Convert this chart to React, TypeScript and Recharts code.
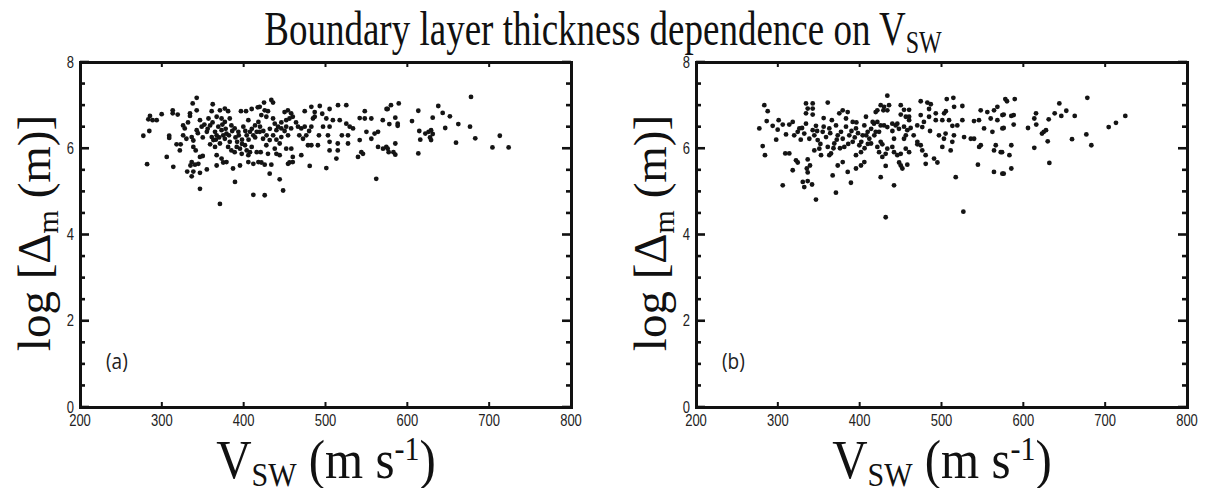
import React from 'react';
import { ScatterChart, Scatter, XAxis, YAxis } from 'recharts';

// V_sw vs log boundary layer thickness
const panelA: [number, number][] = [
  [342.6, 7.17], [337.7, 7.04], [362.2, 7.02], [285.5, 6.75], [283.5, 6.67], [288.7, 6.65], [293.7, 6.65],
  [299.8, 6.79], [313.3, 6.88], [313.3, 6.81], [319.4, 6.78], [334.4, 6.81], [334.4, 6.75], [342.6, 6.88],
  [360.9, 6.86], [371, 6.88], [377, 6.92], [381, 6.86], [396.7, 6.86], [402.9, 6.86], [409.8, 6.91], [417.2, 6.95],
  [277.4, 6.29], [284.7, 6.4], [309, 6.29], [309, 6.24], [318, 6.09], [323, 6.09], [322, 5.95], [306, 5.8],
  [282, 5.63], [314, 5.57], [326, 6.53], [328, 6.46], [330, 6.22], [336.5, 6.26], [338.5, 6.18], [342.6, 6.42],
  [346.6, 6.65], [348.7, 6.5], [338.5, 6.03], [341.4, 5.95], [346.6, 5.8], [350, 5.82], [336.5, 5.68], [340.5, 5.62],
  [344.6, 5.64], [335, 5.6], [331, 5.46], [338.5, 5.46], [346.6, 5.43], [336.5, 5.35], [355, 5.51], [346.6, 5.06],
  [371, 4.71], [389.4, 5.22], [411.8, 4.92],
  [355, 6.38], [359, 6.53], [361, 6.26], [365, 6.38], [367, 6.3], [363, 6.19], [369, 6.5], [373, 6.42], [375, 6.3], [379, 6.34],
  [359, 6.09], [365, 6.03], [371, 6.11], [377, 6.22], [381, 6.03], [383, 6.15], [385, 5.95], [391.5, 6.03], [395.5, 5.99],
  [401.6, 6.07], [403.7, 5.95], [407.7, 5.91], [409.8, 6.03],
  [367, 5.84], [373, 5.76], [379, 5.68], [389, 5.91], [397.6, 5.87], [405.7, 5.84], [416, 5.91], [367, 5.6], [375, 5.67],
  [387, 5.53], [395.5, 5.6], [405.7, 5.68], [411.8, 5.64], [418, 5.68],
  [357, 6.69], [367, 6.73], [373, 6.69], [383, 6.69], [377, 6.61], [385, 6.53], [389, 6.46], [393.5, 6.38], [399.6, 6.5],
  [405.7, 6.65], [407.7, 6.38], [411.8, 6.3], [413.9, 6.53], [418, 6.61], [416, 6.38], [403.7, 6.3],
  [433.8, 7.12], [435.9, 7.06], [424.9, 7.06], [419.6, 6.96], [425.7, 6.88], [429.7, 6.86], [421.6, 6.77], [427.7, 6.73],
  [435.9, 6.69], [450, 6.84], [454, 6.88], [458, 6.81], [460, 6.73], [456, 6.69], [452, 6.65],
  [482.7, 6.96], [493, 6.98], [486.8, 6.84], [474.6, 6.86], [505, 6.91], [515.3, 7.0], [525.4, 7.0],
  [548, 6.86], [541.8, 6.7], [548, 6.69], [556, 6.69], [570, 6.65], [574.6, 6.91],
  [438, 6.57], [442, 6.5], [440, 6.42], [446, 6.46], [452, 6.5], [458, 6.46], [466.4, 6.5],
  [470.4, 6.46], [474.6, 6.5], [484.7, 6.69], [486.8, 6.73], [482.7, 6.5], [497, 6.5], [501, 6.69], [505, 6.5],
  [509, 6.65], [517.4, 6.65], [525.4, 6.57], [533.6, 6.46], [529.6, 6.5],
  [419.6, 6.38], [423.7, 6.22], [431.8, 6.19], [427.7, 6.07], [420.8, 5.91], [429.7, 5.87], [438, 5.99], [444, 6.11],
  [446, 6.26], [454.2, 6.3], [458.2, 5.99],
  [440, 5.87], [444, 5.84], [452, 5.99], [460, 5.8], [454.2, 5.64], [470.4, 5.84], [472.5, 6.22], [476.5, 6.3],
  [478.6, 6.07], [482.7, 6.07], [490.7, 6.07], [503, 6.3], [505, 6.15], [515, 6.11], [505, 5.95], [515, 5.95],
  [527.5, 6.3], [527.5, 6.11], [513.3, 5.76],
  [541.8, 6.19], [550, 6.38], [556, 6.22], [560, 6.34], [564.2, 6.38], [564.2, 6.03], [570.3, 5.99], [574.3, 6.03],
  [543.8, 5.91], [539.7, 5.8], [545.8, 5.87],
  [421.6, 5.67], [425.7, 5.62], [433.8, 5.62], [431.8, 5.41], [444, 5.28], [425.7, 4.91], [448.2, 5.02], [480.7, 5.59],
  [501, 5.54], [562, 5.29], [456, 5.67], [460, 5.68],
  [580, 7.0], [576, 6.91], [589.5, 7.04], [585.3, 6.71], [578, 6.56], [588.2, 6.57], [588.2, 6.52],
  [613.4, 6.87], [605.7, 6.63], [631, 6.71], [637.8, 6.98], [643.2, 6.82], [652, 6.74], [662.3, 6.56], [677.8, 7.19],
  [676.6, 6.5], [646.3, 6.47],
  [614.6, 6.4], [615.8, 6.2], [622, 6.34], [626, 6.38], [629, 6.42], [631, 6.33], [627.7, 6.25], [629, 6.19], [613.4, 5.88],
  [659.5, 6.13], [683, 6.23], [704, 6.02], [713, 6.29], [723.8, 6.02],
  [585.3, 6.11], [576, 5.99], [577.2, 5.91], [583, 5.91], [585.3, 5.85],
  // denser core of the cloud
  [352, 6.55], [356, 6.45], [362, 6.6], [366, 6.2], [370, 6.25], [374, 6.55], [378, 6.45], [382, 6.3], [386, 6.4],
  [390, 6.25], [394, 6.3], [398, 6.2], [402, 6.4], [406, 6.2], [410, 6.45], [414, 6.25], [398, 6.1], [392, 6.15],
  [344, 6.35], [350, 6.25], [332, 6.6], [326, 6.3], [420, 6.5], [424, 6.4], [428, 6.3], [432, 6.45], [436, 6.3],
  [440, 6.2], [446, 6.6], [450, 6.4], [464, 6.6], [468, 6.3], [480, 6.4], [492, 6.3], [496, 6.8], [520, 6.3],
];

const panelB: [number, number][] = [
  [283.5, 7.0], [287.6, 6.86], [334.4, 7.04], [342.6, 7.04], [336.5, 6.92], [342.6, 6.92], [334.4, 6.81], [342.6, 6.78],
  [361, 7.06],
  [277.4, 6.46], [286.4, 6.63], [293.7, 6.52], [301, 6.65], [299.8, 6.43], [310, 6.32], [314, 6.55], [318.2, 6.61],
  [326.3, 6.46], [329.6, 6.47], [334.4, 6.57], [342.6, 6.42], [346.6, 6.52],
  [281.5, 6.05], [284.3, 5.84], [309.1, 5.88], [314, 5.88], [322.2, 5.72], [324.3, 5.67], [336.5, 5.74], [339.3, 5.6],
  [318.2, 5.49], [335.4, 5.53], [336.5, 5.44], [306, 5.14], [330.5, 5.22], [336.5, 5.24], [332.3, 5.1], [341.8, 5.16],
  [346.6, 4.81], [371, 4.97], [389.3, 5.2],
  [338.5, 6.22], [344.6, 6.3], [348.7, 6.19], [354.8, 6.38], [358.9, 6.26], [362.9, 6.46], [361, 6.03], [365, 5.88],
  [369, 6.11], [373.2, 6.3], [371.1, 6.53], [377.2, 6.38], [379.3, 6.22], [381.2, 6.03], [383.3, 6.5], [383.3, 6.69],
  [375.1, 6.81], [379.3, 6.88], [385.4, 6.84], [391.5, 6.61], [387.3, 6.3], [391.5, 6.15], [395.5, 6.46], [399.6, 6.07],
  [401.6, 5.91], [395.5, 5.84], [403.7, 6.3], [405.7, 6.53], [407.7, 6.73], [409.8, 6.38], [411.8, 6.22], [413.9, 6.11],
  [417.9, 6.3], [415.9, 6.61], [401.6, 5.6], [405.7, 5.68], [373.2, 5.6], [379.3, 5.68], [385.4, 5.45], [395.5, 5.53],
  [367, 5.37], [352.8, 5.84], [362.9, 5.84], [350.7, 5.99], [344.6, 5.95], [324.3, 6.38], [332.3, 6.34],
  [433.8, 7.22], [425.7, 7.0], [429.8, 6.96], [435.9, 7.0], [419.6, 6.84], [421.6, 6.88], [429, 6.88], [433.8, 6.88],
  [450.2, 7.0], [454.2, 6.89], [460.4, 6.89], [450.2, 6.78], [456.4, 6.73], [460.4, 6.73], [474.6, 7.09], [482.7, 7.06],
  [486.9, 7.02], [484.8, 6.91], [484.8, 6.73], [493, 6.81], [474.6, 6.77], [506.4, 7.14], [514.5, 7.17], [515.4, 6.96],
  [525.5, 6.98], [505.3, 6.86], [503.2, 6.81],
  [417.5, 6.57], [421.6, 6.61], [425.7, 6.53], [429.8, 6.53], [433.8, 6.49], [439.9, 6.57], [444, 6.53], [446, 6.57],
  [419.6, 6.38], [423.7, 6.38], [454.2, 6.5], [458.2, 6.42], [462.3, 6.47], [456.4, 6.3], [454.2, 6.22], [460.4, 6.65],
  [470.4, 6.53], [476.5, 6.49], [478.5, 6.61], [493, 6.65], [501, 6.65], [509.2, 6.65], [519.3, 6.53], [525.5, 6.65],
  [513.3, 6.52], [539.7, 6.63], [545.8, 6.65], [547.9, 6.88], [556, 6.84], [564.2, 6.88], [568.3, 6.96], [560.1, 6.69],
  [568.3, 6.65], [574.4, 6.77], [552, 6.46], [562.2, 6.38], [574.4, 6.46],
  [425.7, 6.15], [427.7, 6.09], [421.6, 6.03], [423.7, 5.91], [431.8, 5.87], [433.8, 5.99], [439.9, 6.03], [442, 6.22],
  [442, 5.91], [446, 5.84], [450.2, 5.87], [456.3, 5.99], [460.4, 5.91], [470.5, 6.15], [470.5, 6.09], [474.6, 6.07],
  [476.5, 5.95], [480.6, 5.84], [496.9, 6.3], [503, 6.22], [505, 6.34], [515.2, 6.3], [513.2, 6.15], [501, 6.03],
  [527.6, 6.26], [535.8, 6.22], [539.8, 6.22], [548, 6.07], [546, 6.03], [566.3, 6.07], [564.2, 5.95], [572.4, 5.91],
  [427.7, 5.8], [431.8, 5.59], [425.7, 5.33], [442, 5.14], [448.2, 5.67], [452.2, 5.53], [450.2, 5.6], [458.2, 5.62],
  [480.7, 5.64], [490.9, 5.76], [495, 5.67], [511.2, 5.95], [544.5, 5.62], [564.1, 5.45], [574.4, 5.41], [517.4, 5.33],
  [431.8, 4.4], [526.7, 4.53],
  [578, 7.14], [580, 7.09], [589.5, 7.14], [576, 6.78], [585.3, 6.75], [588.2, 6.77], [588.2, 6.55], [576, 6.47],
  [605.7, 6.47], [615.5, 6.81], [613.4, 6.69], [615.8, 6.55], [631, 6.67], [638.3, 6.81], [644, 7.04], [646.4, 6.75],
  [652.5, 6.87], [662.8, 6.75], [678.2, 7.17],
  [622.8, 6.34], [625, 6.38], [627.7, 6.42], [629.8, 6.16], [659.5, 6.21], [677, 6.32], [683.1, 6.07], [704.3, 6.49],
  [713.2, 6.59], [724.6, 6.75],
  [585.3, 6.07], [574, 5.91], [583, 5.84], [613.4, 6.01], [585.3, 5.53], [576, 5.41], [631.8, 5.66],
  // denser core of the cloud
  [352, 6.1], [356, 6.5], [364, 6.35], [368, 6.0], [372, 6.2], [376, 6.0], [386, 6.1], [390, 6.4], [394, 6.25],
  [398, 6.35], [402, 6.15], [406, 6.0], [410, 6.1], [414, 6.45], [408, 6.3], [396, 6.6], [366, 6.65], [356, 6.7],
  [348, 6.4], [328, 6.2], [320, 6.3], [306, 6.55], [298, 6.2], [440, 6.4], [448, 6.45], [466, 6.3], [486, 6.4],
];

const xTicks = [200, 300, 400, 500, 600, 700, 800];
const yTicks = [0, 0.5, 1, 1.5, 2, 2.5, 3, 3.5, 4, 4.5, 5, 5.5, 6, 6.5, 7, 7.5, 8];
const yLabelled = [0, 2, 4, 6, 8];

const INK = '#111111';
const sans = '"Liberation Sans", Arial, sans-serif';
const serif = '"Liberation Serif", "Times New Roman", serif';

// plot box inside each 600x488 panel: left 80, top 62, right 571, bottom 407
const BOX = { left: 80, top: 62, width: 491, height: 345 };
const AX = 12; // room given to the top / right axes

// the figure is a bit stretched vertically, so text gets a scaleY
const TickText = ({ x, y, anchor, children }: any) => (
  <text transform={`translate(${x},${y}) scale(1,1.22)`} textAnchor={anchor}
    fontFamily={sans} fontSize={13} fill="#222">{children}</text>
);

const LeftTick = (p: any) => {
  const v = p.payload.value;
  const major = yLabelled.includes(v);
  return (
    <g>
      <rect x={p.x} y={p.y - 1.3} width={major ? 9 : 5} height={2.6} fill={INK} />
      {major && <TickText x={p.x - 6} y={p.y + 5.5} anchor="end">{v}</TickText>}
    </g>
  );
};
const RightTick = (p: any) => {
  const major = yLabelled.includes(p.payload.value);
  const w = major ? 9 : 5;
  return <rect x={p.x - w} y={p.y - 1.3} width={w} height={2.6} fill={INK} />;
};
const BottomTick = (p: any) => (
  <g>
    <rect x={p.x - 1} y={p.y - 5} width={2} height={5} fill={INK} />
    <TickText x={p.x} y={p.y + 19} anchor="middle">{p.payload.value}</TickText>
  </g>
);
const TopTick = (p: any) => <rect x={p.x - 1} y={p.y} width={2} height={5} fill={INK} />;

const Dot = (p: any) => <circle cx={p.cx} cy={p.cy} r={2.4} fill="#141414" />;

const subStyle = (size: number, top: number) => ({ fontSize: size, verticalAlign: 'baseline', position: 'relative' as const, top });

const Panel = ({ points, left, tag }: { points: [number, number][]; left: number; tag: string }) => {
  const data = points.map(([v, d]) => ({ v, d }));
  return (
    <div style={{ position: 'absolute', left, top: 0, width: 600, height: 488 }}>
      <ScatterChart width={600} height={488} style={{ overflow: 'visible' }}
        margin={{ top: BOX.top - AX, right: 600 - BOX.left - BOX.width - AX, bottom: 488 - BOX.top - BOX.height - 20, left: BOX.left - 20 }}>
        <XAxis xAxisId="b" type="number" dataKey="v" domain={[200, 800]} ticks={xTicks} allowDataOverflow
          height={20} tickSize={0} tickMargin={0} tickLine={false} tick={<BottomTick />} axisLine={false} />
        <XAxis xAxisId="t" orientation="top" type="number" dataKey="v" domain={[200, 800]} ticks={xTicks} allowDataOverflow
          height={AX} tickSize={0} tickMargin={0} tickLine={false} tick={<TopTick />} axisLine={false} />
        <YAxis yAxisId="l" type="number" dataKey="d" domain={[0, 8]} ticks={yTicks} allowDataOverflow interval={0}
          width={20} tickSize={0} tickMargin={0} tickLine={false} tick={<LeftTick />} axisLine={false} />
        <YAxis yAxisId="r" orientation="right" type="number" dataKey="d" domain={[0, 8]} ticks={yTicks} allowDataOverflow interval={0}
          width={AX} tickSize={0} tickMargin={0} tickLine={false} tick={<RightTick />} axisLine={false} />
        <Scatter xAxisId="b" yAxisId="l" data={data} shape={<Dot />} isAnimationActive={false} />
        <Scatter xAxisId="t" yAxisId="r" data={data} shape={() => <g />} isAnimationActive={false} />
      </ScatterChart>
      {/* axes box, kept above the svg */}
      <div style={{
        position: 'absolute', zIndex: 5, left: BOX.left - 1.5, top: BOX.top - 1.5, width: BOX.width + 3, height: BOX.height + 3,
        borderStyle: 'solid', borderColor: INK, borderWidth: 3, boxSizing: 'border-box', pointerEvents: 'none',
      }} />
      <div style={{ position: 'absolute', zIndex: 6, left: 106, top: 348, fontFamily: '"Open Sans", sans-serif', fontSize: 19, color: '#222', transform: 'scaleY(1.15)' }}>{tag}</div>
      <div style={{
        position: 'absolute', zIndex: 6, left: 34, top: 233, transform: 'translate(-50%, -50%) rotate(-90deg)',
        fontFamily: serif, fontSize: 47, whiteSpace: 'nowrap', color: '#111', lineHeight: 1,
      }}>
        log [Δ<sub style={subStyle(30, 8)}>m</sub> (m)]
      </div>
      <div style={{
        position: 'absolute', zIndex: 6, left: 326, top: 431, transform: 'translateX(-50%) scaleY(1.14)', transformOrigin: '50% 0',
        fontFamily: serif, fontSize: 49, whiteSpace: 'nowrap', color: '#111', lineHeight: 1,
      }}>
        V<sub style={subStyle(30, 7)}>SW</sub> (m s<sup style={subStyle(30, -16)}>-1</sup>)
      </div>
    </div>
  );
};

export default function App() {
  return (
    <div style={{ position: 'absolute', left: 0, top: 0, width: 1205, height: 488, background: '#fff', overflow: 'hidden' }}>
      <div style={{
        position: 'absolute', left: 603, top: 5, transform: 'translateX(-50%) scaleY(1.3)', transformOrigin: '50% 0',
        fontFamily: serif, fontSize: 37, whiteSpace: 'nowrap', color: '#111', lineHeight: 1,
      }}>
        Boundary layer thickness dependence on V<sub style={subStyle(24, 6)}>SW</sub>
      </div>
      <Panel points={panelA} left={0} tag="(a)" />
      <Panel points={panelB} left={616} tag="(b)" />
    </div>
  );
}
